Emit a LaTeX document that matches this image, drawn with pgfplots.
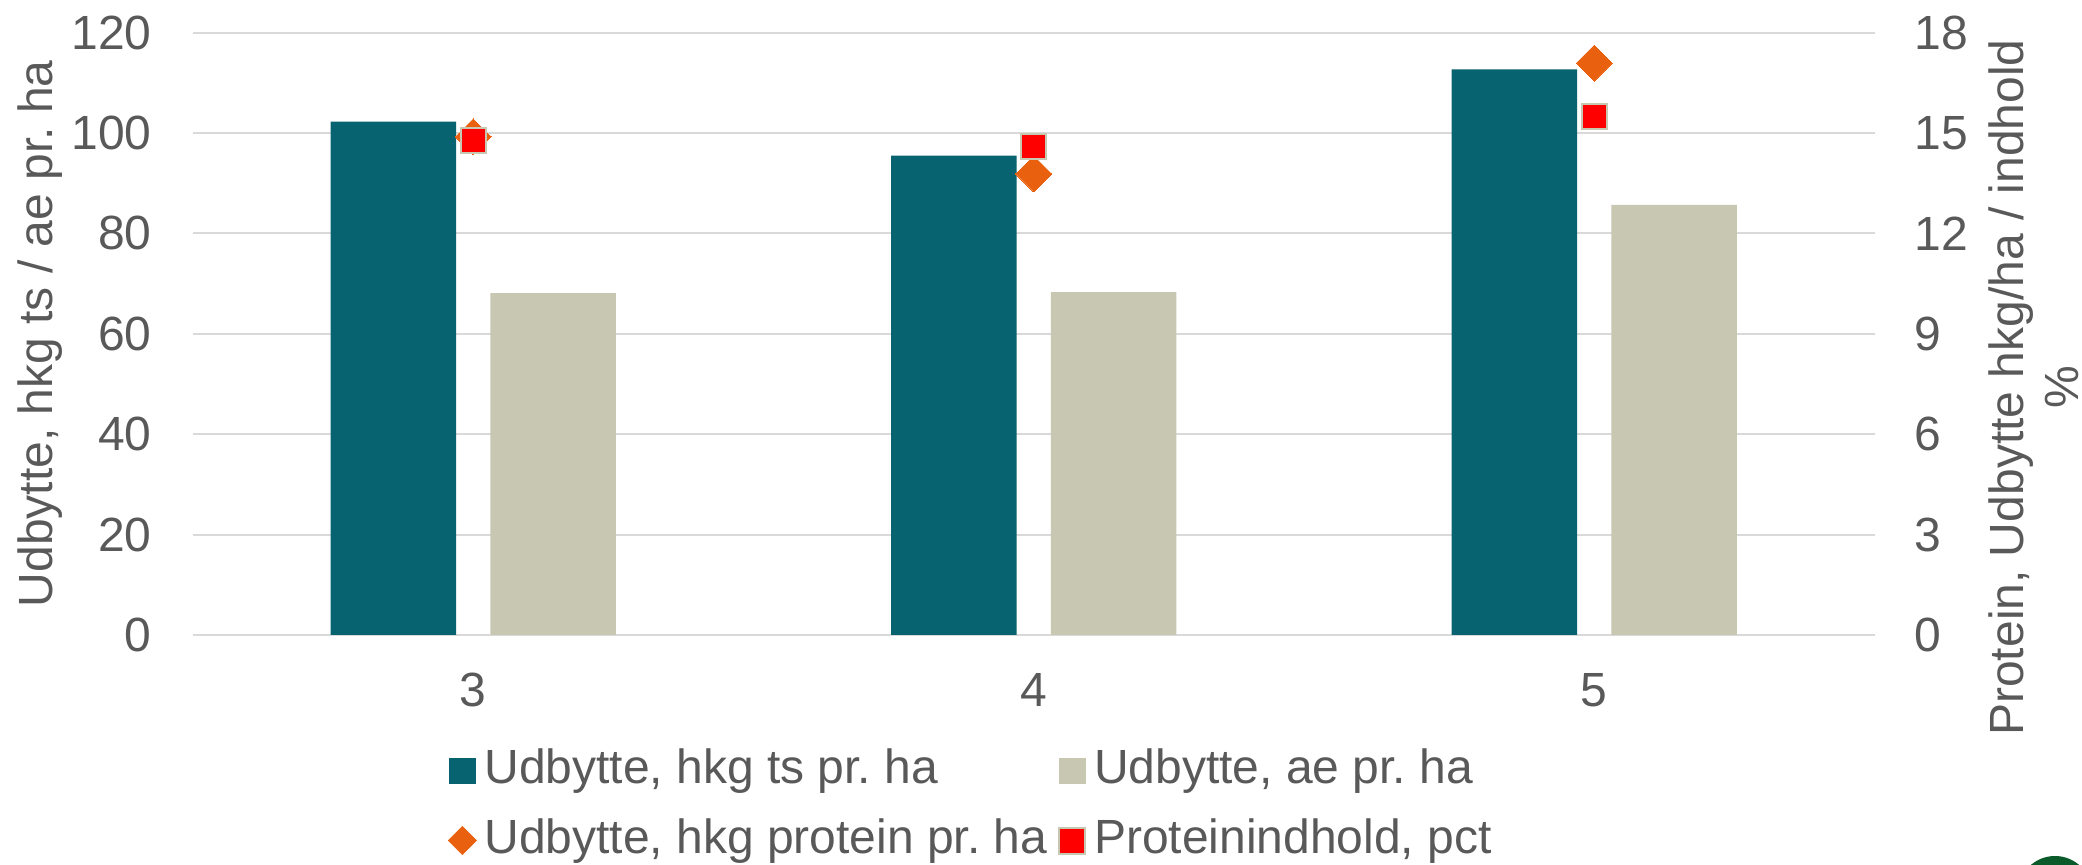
\documentclass[border=0pt]{standalone}
\usepackage{pgfplots}
\pgfplotsset{compat=1.18}
\usepackage{fontspec}
\setmainfont{Liberation Sans}
\frenchspacing
\definecolor{cteal}{RGB}{8,99,112}
\definecolor{cbeige}{RGB}{200,200,178}
\definecolor{corange}{RGB}{233,97,14}
\definecolor{cred}{RGB}{255,0,0}
\definecolor{cgrid}{RGB}{217,217,217}
\definecolor{ctext}{RGB}{89,89,89}
\definecolor{cgreen}{RGB}{11,90,42}
\begin{document}
\begin{tikzpicture}
\useasboundingbox (0,0) rectangle (1041pt,432.5pt);
\fill[cgreen] (1027.5pt,-14pt) circle (18.5pt);
\begin{axis}[
  at={(96.5pt,115pt)}, anchor=south west,
  scale only axis, width=840.75pt, height=301.15pt,
  xmin=0, xmax=3, ymin=0, ymax=120,
  axis x line*=bottom, axis y line*=left,
  axis line style={draw=none},
  ytick={0,20,...,120},
  xtick={0.5,1.5,2.5}, xticklabels={3,4,5},
  major tick length=0pt,
  ymajorgrids, grid style={cgrid, line width=1pt},
  /pgf/number format/assume math mode=true,
  tick label style={font=\fontsize{24}{28}\selectfont, text=ctext},
  yticklabel style={inner sep=0pt, anchor=east, xshift=-20.5pt},
  xticklabel style={inner sep=0pt, anchor=north, yshift=-19pt},
  ylabel={Udbytte, hkg ts / ae pr. ha},
  ylabel style={font=\fontsize{24}{28}\selectfont, text=ctext, inner sep=0pt, at={(rel axis cs:-0.08326,0.5)}, anchor=base},
]
\addplot[ybar, bar width=0.224, bar shift=-0.1425, fill=cteal, draw=none] coordinates {(0.5,102.3) (1.5,95.5) (2.5,112.7)};
\addplot[ybar, bar width=0.224, bar shift=0.1425, fill=cbeige, draw=none] coordinates {(0.5,68.1) (1.5,68.3) (2.5,85.7)};
\end{axis}
\begin{axis}[
  at={(96.5pt,115pt)}, anchor=south west,
  scale only axis, width=840.75pt, height=301.15pt,
  xmin=0, xmax=3, ymin=0, ymax=18,
  axis y line*=right, axis x line=none,
  axis line style={draw=none},
  ytick={0,3,...,18}, xtick=\empty,
  major tick length=0pt,
  /pgf/number format/assume math mode=true,
  tick label style={font=\fontsize{24}{28}\selectfont, text=ctext},
  yticklabel style={inner sep=0pt, anchor=west, xshift=20pt},
  ylabel={Protein, Udbytte hkg/ha / indhold\\\%},
  ylabel style={font=\fontsize{24}{27.5}\selectfont, text=ctext, inner sep=0pt, align=center, at={(rel axis cs:1.06751,0.41093)}, anchor=north},
  legend columns=2,
  legend cell align=left,
  legend style={at={(rel axis cs:0.15165,-0.18762)}, anchor=north west, draw=none, fill=none, inner sep=0pt, outer sep=0pt,
    column sep=3.8pt, row sep=12.5pt, font=\fontsize{24}{28}\selectfont, text=ctext,
    nodes={inner sep=0pt, text height=17.5pt, text depth=5pt},
    /tikz/every even column/.append style={column sep=5.5pt}},
]
\addlegendimage{legend image code/.code={\fill[cteal] (0.5pt,-6.25pt) rectangle (13.5pt,6.25pt);}}
\addlegendentry{Udbytte, hkg ts pr. ha}
\addlegendimage{legend image code/.code={\fill[cbeige] (0.5pt,-6.25pt) rectangle (13.5pt,6.25pt);}}
\addlegendentry{Udbytte, ae pr. ha}
\addplot[only marks, mark=square*, mark size=6.36pt, mark options={rotate=45, fill=corange, draw=corange, line width=0pt},
  legend image code/.code={\fill[corange] (7pt,-7pt) -- (14pt,0pt) -- (7pt,7pt) -- (0pt,0pt) -- cycle;}]
  coordinates {(0.5,14.89) (1.5,13.78) (2.5,17.09)};
\addlegendentry{Udbytte, hkg protein pr. ha}
\addplot[only marks, mark=square*, mark size=6.25pt, mark options={fill=cred, draw=cbeige, line width=1pt},
  legend image code/.code={\filldraw[fill=cred, draw=cbeige, line width=1pt] (0.5pt,-6.5pt) rectangle (13.5pt,6.5pt);}]
  coordinates {(0.5,14.79) (1.5,14.59) (2.5,15.51)};
\addlegendentry{Proteinindhold, pct}
\end{axis}
\end{tikzpicture}
\end{document}
